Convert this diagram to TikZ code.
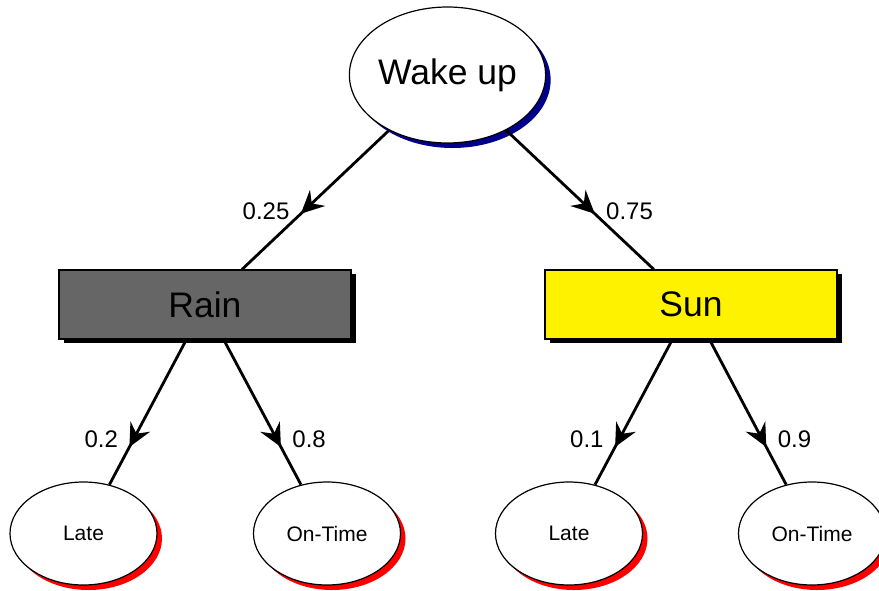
\documentclass[tikz,border=0pt]{standalone}
\usepackage{fontspec}
\setmainfont{Liberation Sans}
\usetikzlibrary{shapes.geometric, shadows, arrows.meta, decorations.markings, positioning}
\definecolor{shadowblue}{RGB}{0,0,139}
\definecolor{raingray}{RGB}{102,102,102}

\begin{document}
\begin{tikzpicture}[x=1pt, y=-1pt, on grid,
    start/.style={ellipse, draw, fill=white, line width=1.2pt, inner sep=0pt,
      minimum width=195pt, minimum height=136pt, font=\fontsize{35.5}{40}\selectfont,
      drop shadow={shadow xshift=5pt, shadow yshift=-5pt, fill=shadowblue, opacity=1}},
    weather/.style={rectangle, draw, line width=1.2pt, inner sep=0pt,
      minimum width=292pt, minimum height=69pt, font=\fontsize{35.5}{40}\selectfont,
      drop shadow={shadow xshift=5pt, shadow yshift=-4pt, fill=black, opacity=1}},
    outcome/.style={ellipse, draw, fill=white, line width=1.2pt, inner sep=0pt,
      minimum width=147pt, minimum height=103pt, font=\fontsize{21}{24}\selectfont,
      drop shadow={shadow xshift=5pt, shadow yshift=-5pt, fill=red, opacity=1}},
    prob/.style={inner sep=0pt, font=\fontsize{24}{27}\selectfont},
    midarrow/.style={postaction={decorate}, decoration={markings,
      mark=at position #1 with {\arrow{Stealth[length=23pt, width=22pt, inset=8pt]}}}}]
        \useasboundingbox (0,0) rectangle (879,590);
        \node[start]                 (wake)   at (447.5,75)                          {Wake up};
        \node[weather, fill=raingray] (rain)   [below left=229.5pt and 242.5pt of wake]  {Rain};
        \node[weather, fill=yellow]  (sun)    [below right=229.5pt and 243.5pt of wake] {Sun};
        \node[outcome]               (late_1) [below left=229pt and 121.5pt of rain]   {Late};
        \node[outcome]               (time_1) [below right=229pt and 122pt of rain]    {On-Time};
        \node[outcome]               (late_2) [below left=229pt and 122pt of sun]      {Late};
        \node[outcome]               (time_2) [below right=229pt and 121pt of sun]     {On-Time};
        \path[line width=2.8pt]
          (wake) edge [midarrow=0.6]  node[prob, pos=0.58, anchor=east, xshift=-13pt] {0.25} (rain)
                 edge [midarrow=0.6]  node[prob, pos=0.58, anchor=west, xshift=13pt]  {0.75} (sun)
          (rain) edge [midarrow=0.74] node[prob, pos=0.69, anchor=east, xshift=-14pt] {0.2}  (late_1)
                 edge [midarrow=0.74] node[prob, pos=0.69, anchor=west, xshift=14pt]  {0.8}  (time_1)
          (sun)  edge [midarrow=0.74] node[prob, pos=0.69, anchor=east, xshift=-14pt] {0.1}  (late_2)
                 edge [midarrow=0.74] node[prob, pos=0.69, anchor=west, xshift=14pt]  {0.9}  (time_2);
      \end{tikzpicture}
\end{document}
